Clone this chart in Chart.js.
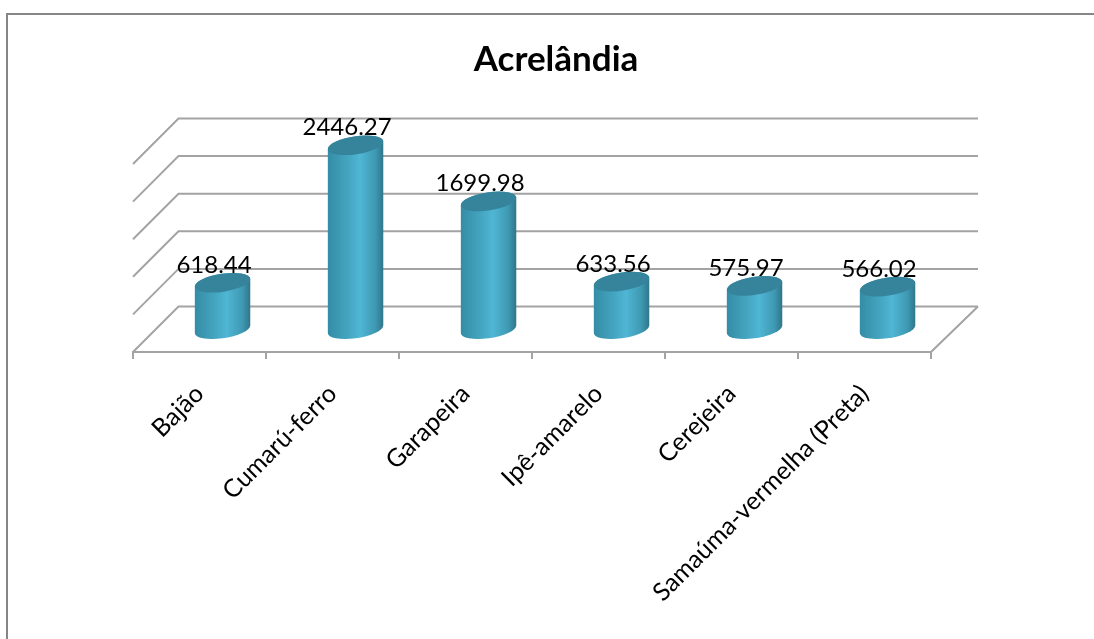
<!DOCTYPE html>
<html>
<head>
<meta charset="utf-8">
<title>Acrelândia</title>
<script src="https://cdn.jsdelivr.net/npm/chart.js@4"></script>
<style>
  html, body { margin: 0; padding: 0; background: #fff; overflow: hidden; }
  canvas { display: block; }
</style>
</head>
<body>
<canvas id="chart" width="1094" height="639"></canvas>
<script>
const titleText = "Acrelândia";
const categories = ["Bajão", "Cumarú-ferro", "Garapeira", "Ipê-amarelo", "Cerejeira", "Samaúma-vermelha (Preta)"];
const volumes = [618.44, 2446.27, 1699.98, 633.56, 575.97, 566.02];
const valueLabels = ["618.44", "2446.27", "1699.98", "633.56", "575.97", "566.02"];

const fontName = "Lato, 'Open Sans', sans-serif";
const gridColor = "#a3a3a3";
const depth = 45.5; // profundidade do piso 3D em px

// moldura, piso, parede de fundo e título
const backdrop = {
  id: "backdrop",
  beforeDatasetsDraw(chart) {
    const { ctx, chartArea, scales } = chart;
    ctx.save();
    ctx.strokeStyle = "#868686";
    ctx.lineWidth = 2;
    ctx.strokeRect(7, 14, 1200, 1000);

    ctx.strokeStyle = gridColor;
    ctx.lineWidth = 2;
    ctx.beginPath();
    scales.y.ticks.forEach(tick => {
      const y = scales.y.getPixelForValue(tick.value);
      ctx.moveTo(chartArea.left, y);
      ctx.lineTo(chartArea.left + depth, y - depth);
      ctx.lineTo(chartArea.right + depth + 1.5, y - depth);
    });
    ctx.moveTo(chartArea.right, chartArea.bottom);
    ctx.lineTo(chartArea.right + depth + 1.5, chartArea.bottom - depth);
    ctx.stroke();

    ctx.fillStyle = "#000";
    ctx.font = "bold 35px " + fontName;
    ctx.textAlign = "center";
    ctx.textBaseline = "middle";
    ctx.fillText(titleText, 556, 60);
    ctx.restore();
  }
};

// cilindros desenhados a partir das barras do Chart.js
const cylinders = {
  id: "cylinders",
  afterDatasetsDraw(chart) {
    const { ctx } = chart;
    const rot = -0.15;
    const b = 9;
    chart.getDatasetMeta(0).data.forEach((bar, i) => {
      const a = bar.width / 2 + 0.5;
      const x = bar.x + depth / 2 + 0.3;
      const top = bar.y - depth / 2;
      const base = bar.base - depth / 2;
      const t0 = Math.atan((b / a) * Math.tan(-rot));

      const grad = ctx.createLinearGradient(x - a, 0, x + a, 0);
      grad.addColorStop(0, "#348ca5");
      grad.addColorStop(0.35, "#44a4bf");
      grad.addColorStop(0.58, "#4fb6d4");
      grad.addColorStop(0.85, "#3f99b3");
      grad.addColorStop(1, "#2e7589");

      ctx.save();
      ctx.fillStyle = grad;
      ctx.beginPath();
      ctx.ellipse(x, base, a, b, rot, t0, t0 + Math.PI);
      ctx.ellipse(x, top, a, b, rot, t0 + Math.PI, t0 + 2 * Math.PI);
      ctx.closePath();
      ctx.fill();

      ctx.fillStyle = "#36849c";
      ctx.beginPath();
      ctx.ellipse(x, top, a, b, rot, 0, 2 * Math.PI);
      ctx.fill();

      ctx.fillStyle = "#000";
      ctx.font = "24px " + fontName;
      ctx.textAlign = "center";
      ctx.textBaseline = "alphabetic";
      ctx.fillText(valueLabels[i], x - 8.5, top - 10);
      ctx.restore();
    });
  }
};

new Chart(document.getElementById("chart"), {
  type: "bar",
  data: {
    labels: categories,
    datasets: [{ data: volumes, backgroundColor: "transparent", barThickness: 55 }]
  },
  options: {
    responsive: false,
    animation: false,
    layout: { padding: { left: 133, right: 163, top: 164, bottom: 0 } },
    plugins: { legend: { display: false }, tooltip: { enabled: false } },
    scales: {
      x: {
        afterFit(scale) { scale.height = 287; },
        border: { display: true, color: gridColor, width: 2 },
        grid: { drawOnChartArea: false, drawTicks: true, tickLength: 7, color: gridColor, lineWidth: 2 },
        ticks: {
          autoSkip: false,
          minRotation: 45,
          maxRotation: 45,
          padding: 20,
          color: "#000",
          font: { family: fontName, size: 25 }
        }
      },
      y: {
        display: false,
        min: 0,
        max: 2500,
        ticks: { stepSize: 500 }
      }
    }
  },
  plugins: [backdrop, cylinders]
});
</script>
</body>
</html>
